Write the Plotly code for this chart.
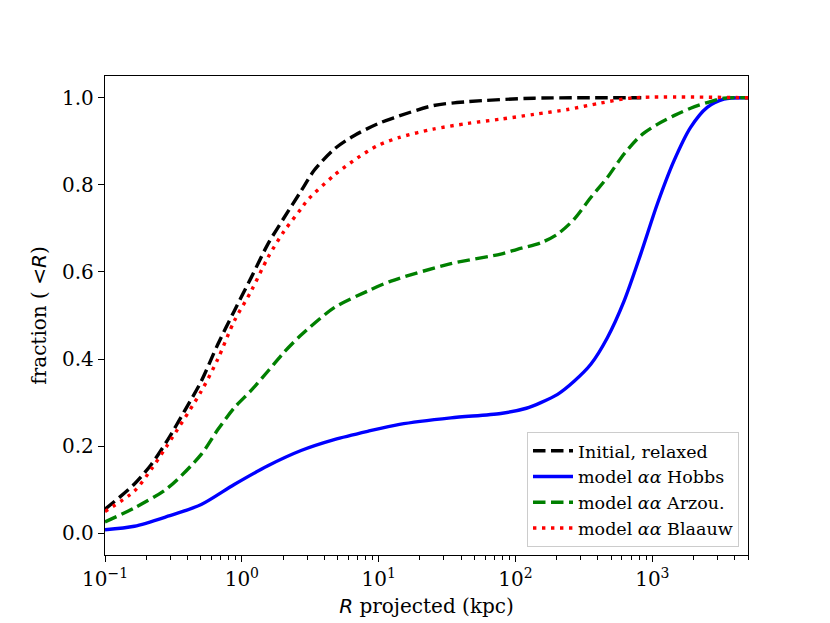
import plotly.graph_objects as go

# ---- data ----
x_initial = [0.1, 0.164, 0.218, 0.288, 0.38, 0.505, 0.668, 0.879, 1.17, 1.55, 2.04, 2.71, 3.39,
             4.73, 6.6, 9.8, 12.9, 25, 44.5, 137, 830]
y_initial = [0.055, 0.113, 0.158, 0.215, 0.28, 0.349, 0.434, 0.51, 0.587, 0.664, 0.725, 0.786, 0.834,
             0.882, 0.913, 0.94, 0.954, 0.982, 0.991, 0.999, 1.0]

x_hobbs = [0.1, 0.164, 0.288, 0.505, 0.88, 1.55, 2.71, 4.73, 8.3, 14.2, 33.7, 78, 120, 153, 203,
           268, 355, 469, 621, 822, 1087, 1438, 1903, 2517, 3330, 5000]
y_hobbs = [0.008, 0.016, 0.039, 0.066, 0.112, 0.155, 0.19, 0.215, 0.234, 0.25, 0.265, 0.275, 0.287,
           0.30, 0.319, 0.349, 0.388, 0.449, 0.533, 0.641, 0.756, 0.855, 0.932, 0.978, 0.997, 1.0]

x_arzou = [0.1, 0.164, 0.288, 0.505, 0.668, 0.88, 1.17, 1.55, 2.04, 2.71, 4.73, 8.3, 12.3, 33.7,
           78, 103, 153, 203, 268, 355, 469, 621, 822, 1087, 1438, 1903, 2517, 3330, 5000]
y_arzou = [0.026, 0.058, 0.104, 0.181, 0.238, 0.288, 0.328, 0.372, 0.416, 0.455, 0.518, 0.556, 0.579,
           0.619, 0.641, 0.652, 0.667, 0.687, 0.721, 0.771, 0.817, 0.871, 0.913, 0.939, 0.959, 0.976,
           0.989, 0.999, 1.0]

x_blaauw = [0.1, 0.164, 0.218, 0.288, 0.505, 0.668, 0.879, 1.17, 1.55, 2.04, 2.71, 3.02, 4.73, 7.0,
            9.8, 14.2, 25, 44.5, 78, 137, 240, 420, 733, 5000]
y_blaauw = [0.05, 0.097, 0.147, 0.204, 0.326, 0.40, 0.487, 0.556, 0.633, 0.694, 0.745, 0.765, 0.822,
            0.862, 0.89, 0.909, 0.928, 0.941, 0.951, 0.962, 0.973, 0.988, 1.0, 1.0]

x_tick_vals = [0.1, 1, 10, 100, 1000]
x_tick_text = ["10<sup>\u22121</sup>", "10<sup>0</sup>", "10<sup>1</sup>", "10<sup>2</sup>", "10<sup>3</sup>"]
x_minor_vals = [m * d for d in [0.1, 1, 10, 100, 1000] for m in range(2, 10) if m * d <= 5000]
y_tick_vals = [0.0, 0.2, 0.4, 0.6, 0.8, 1.0]

legend_names = ["Initial, relaxed",
                "model <i>\u03b1\u03b1</i> Hobbs",
                "model <i>\u03b1\u03b1</i> Arzou.",
                "model <i>\u03b1\u03b1</i> Blaauw"]

LW = 3.4
DASH = "12.5px,5.5px"
DOT = "3.4px,5.6px"
SM = 0.8

fig = go.Figure()
fig.add_trace(go.Scatter(x=x_initial, y=y_initial, mode="lines", name=legend_names[0],
                         line=dict(color="black", width=LW, dash=DASH, shape="spline", smoothing=SM)))
fig.add_trace(go.Scatter(x=x_hobbs, y=y_hobbs, mode="lines", name=legend_names[1],
                         line=dict(color="#0000ff", width=LW, shape="spline", smoothing=SM)))
fig.add_trace(go.Scatter(x=x_arzou, y=y_arzou, mode="lines", name=legend_names[2],
                         line=dict(color="#008000", width=LW, dash=DASH, shape="spline", smoothing=SM)))
fig.add_trace(go.Scatter(x=x_blaauw, y=y_blaauw, mode="lines", name=legend_names[3],
                         line=dict(color="#ff0000", width=LW, dash=DOT, shape="spline", smoothing=SM)))

axis_common = dict(showgrid=False, zeroline=False, showline=True, linecolor="black", linewidth=1.3,
                   mirror=True, ticks="outside", ticklen=6, tickwidth=1.3, tickcolor="black",
                   tickfont=dict(family="DejaVu Serif", size=20, color="black"))

fig.update_xaxes(type="log", range=[-1, 3.699], tickvals=x_tick_vals, ticktext=x_tick_text,
                 minor=dict(tickvals=x_minor_vals, ticks="outside", ticklen=3.5, tickwidth=1.0,
                            tickcolor="black"),
                 title=dict(text='<span style="font-family:DejaVu Sans"><i>R</i></span> projected (kpc)',
                            font=dict(family="DejaVu Serif", size=20, color="black"), standoff=8),
                 **axis_common)
fig.update_yaxes(range=[-0.05, 1.05], tickvals=y_tick_vals, tickformat=".1f",
                 title=dict(text='fraction ( <span style="font-family:DejaVu Sans">&lt;<i>R</i></span>)',
                            font=dict(family="DejaVu Serif", size=20, color="black"), standoff=10),
                 **axis_common)

fig.update_layout(
    width=830, height=623,
    margin=dict(l=97, r=90, t=68, b=76),
    plot_bgcolor="white", paper_bgcolor="white",
    font=dict(family="DejaVu Serif", color="black"),
    legend=dict(x=0.986, y=0.017, xanchor="right", yanchor="bottom",
                bgcolor="rgba(255,255,255,0.8)", bordercolor="#cccccc", borderwidth=1,
                font=dict(family="DejaVu Serif", size=17.5, color="black"),
                tracegroupgap=0, itemwidth=40),
    showlegend=True,
)

fig.write_html("out.html")
